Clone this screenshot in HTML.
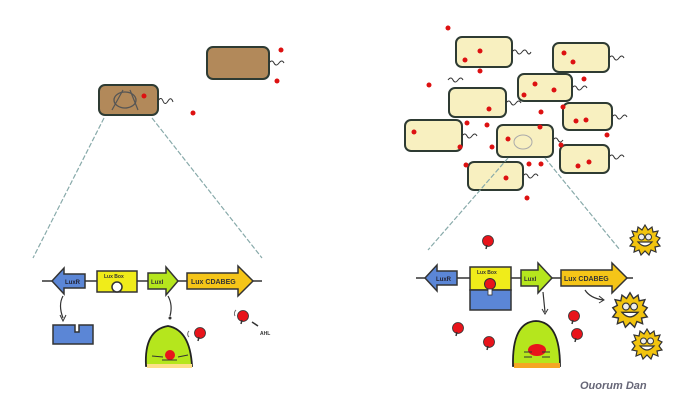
<!DOCTYPE html>
<html><head><meta charset="utf-8"><style>
html,body{margin:0;padding:0;background:#fff;width:680px;height:401px;overflow:hidden}
svg{display:block}
text{font-family:"Liberation Sans",sans-serif;font-weight:bold}
</style></head><body>
<svg width="680" height="401" viewBox="0 0 680 401" xmlns="http://www.w3.org/2000/svg">
<defs>
<g id="sun">
<polygon points="0,-15 3,-10 7,-13 8,-8 13,-9 11,-4 15,-2 12,2 15,6 10,7 11,12 6,10 4,15 0,11 -4,15 -6,10 -11,12 -10,7 -15,6 -12,2 -15,-2 -11,-4 -13,-9 -8,-8 -7,-13 -3,-10" fill="#f2c40f" stroke="#333" stroke-width="1.2"/>
<circle cx="-3.5" cy="-3" r="3" fill="#eee" stroke="#333"/><circle cx="3.5" cy="-3" r="3" fill="#eee" stroke="#333"/>
<path d="M-7,2 Q0,10 7,2 Z" fill="#fff" stroke="#333" stroke-width="1.2"/>
</g>
<g id="ahl"><circle r="5.5" fill="#e8141b" stroke="#333" stroke-width="0.8"/><path d="M-1,4 L-2,8" stroke="#333" stroke-width="1.5"/></g>
</defs>

<!-- LEFT: cells -->
<rect x="207" y="47" width="62" height="32" rx="6" fill="#b2895a" stroke="#2e3b33" stroke-width="2"/>
<path d="M269,63 q3,-4 5,0 t5,0 t5,0" fill="none" stroke="#333"/>
<circle cx="281" cy="50" r="2.5" fill="#d11"/><circle cx="277" cy="81" r="2.5" fill="#d11"/>
<rect x="99" y="85" width="59" height="30" rx="6" fill="#b2895a" stroke="#2e3b33" stroke-width="2"/>
<ellipse cx="125" cy="100" rx="11" ry="8" fill="none" stroke="#555" stroke-width="1.3"/>
<path d="M112,110 L123,90 M138,110 L130,90" stroke="#555" stroke-width="1.2"/>
<circle cx="144" cy="96" r="2.5" fill="#d11"/>
<path d="M158,101 q3,-5 5,0 t5,0 t5,1" fill="none" stroke="#333"/>
<circle cx="193" cy="113" r="2.5" fill="#d11"/>
<path d="M104,118 L33,258 M152,118 L262,258" stroke="#8aa" stroke-width="1.2" stroke-dasharray="5,2"/>

<!-- LEFT: genes -->
<line x1="42" y1="281" x2="262" y2="281" stroke="#333" stroke-width="1.5"/>
<polygon points="52,281 64,268 64,274 85,274 85,288 64,288 64,294" fill="#5b86d6" stroke="#333" stroke-width="1.5"/>
<text x="65" y="284" font-size="6" fill="#223">LuxR</text>
<rect x="97" y="271" width="40" height="21" fill="#f0ec1a" stroke="#333" stroke-width="1.5"/>
<text x="104" y="278" font-size="5" fill="#333">Lux Box</text>
<circle cx="117" cy="287" r="5" fill="#fff" stroke="#333" stroke-width="1.5"/>
<polygon points="148,273 166,273 166,267 178,281 166,295 166,289 148,289" fill="#b5e61d" stroke="#333" stroke-width="1.5"/>
<text x="151" y="284" font-size="6" fill="#333">LuxI</text>
<polygon points="187,273 238,273 238,266 253,281 238,296 238,289 187,289" fill="#f5c518" stroke="#333" stroke-width="1.5"/>
<text x="191" y="284" font-size="7" fill="#333">Lux CDABEG</text>
<path d="M63,296 Q58,305 63,318" fill="none" stroke="#333" stroke-width="1.2"/><path d="M60,315 L63,321 L66,315" fill="none" stroke="#333"/>
<path d="M53,325 H75 V332 H79 V325 H93 V344 H53 Z" fill="#5b86d6" stroke="#333" stroke-width="1.5"/>
<path d="M168,296 Q173,305 170,316" fill="none" stroke="#333" stroke-width="1.2"/><circle cx="170" cy="318" r="1.5" fill="#333"/>
<path d="M146,366 Q144,330 168,326 Q190,330 192,366 Z" fill="#b5e61d" stroke="#222" stroke-width="1.8"/>
<rect x="147" y="364" width="45" height="4" fill="#fde08a"/>
<circle cx="170" cy="355" r="5" fill="#e8141b"/>
<path d="M152,356 L163,357 M178,357 L188,355 M162,360 L177,360" stroke="#333"/>
<use href="#ahl" x="200" y="333"/><use href="#ahl" x="243" y="316"/>
<path d="M189,331 a4,4 0 0,0 0,6 M236,310 a5,5 0 0,0 -1,6" fill="none" stroke="#666"/>
<path d="M252,322 L258,326" stroke="#333" stroke-width="1.5"/>
<text x="260" y="335" font-size="5" fill="#333">AHL</text>

<!-- RIGHT: cells -->
<g fill="#f8f0c0" stroke="#2e3b33" stroke-width="2">
<rect x="456" y="37" width="56" height="30" rx="6"/>
<rect x="553" y="43" width="56" height="29" rx="6"/>
<rect x="518" y="74" width="54" height="27" rx="6"/>
<rect x="449" y="88" width="57" height="29" rx="6"/>
<rect x="563" y="103" width="49" height="27" rx="6"/>
<rect x="405" y="120" width="57" height="31" rx="6"/>
<rect x="497" y="125" width="56" height="32" rx="6"/>
<rect x="560" y="145" width="49" height="28" rx="6"/>
<rect x="468" y="162" width="55" height="28" rx="6"/>
</g>
<ellipse cx="523" cy="142" rx="9" ry="7" fill="none" stroke="#aaa" stroke-width="1"/>
<g fill="none" stroke="#333">
<path d="M512,52 q3,-4 5,0 t5,0 t5,0 t4,0"/>
<path d="M609,58 q3,-4 5,0 t5,0 t5,0"/>
<path d="M572,88 q3,-4 5,0 t5,0 t5,0"/>
<path d="M506,103 q3,-4 5,0 t5,0 t5,0"/>
<path d="M612,117 q3,-4 5,0 t5,0 t5,0"/>
<path d="M462,136 q3,-4 5,0 t5,0 t5,0"/>
<path d="M553,140 q3,-4 5,0 t5,0"/>
<path d="M609,157 q3,-4 5,0 t5,0 t5,0"/>
<path d="M523,176 q3,-4 5,0 t5,0 t5,0"/>
<path d="M448,80 q3,-4 5,0 t5,0 t5,0"/>
</g>
<g fill="#d11">
<circle cx="448" cy="28" r="2.5"/><circle cx="480" cy="51" r="2.5"/><circle cx="465" cy="60" r="2.5"/><circle cx="480" cy="71" r="2.5"/>
<circle cx="564" cy="53" r="2.5"/><circle cx="573" cy="62" r="2.5"/><circle cx="429" cy="85" r="2.5"/><circle cx="535" cy="84" r="2.5"/>
<circle cx="554" cy="90" r="2.5"/><circle cx="524" cy="95" r="2.5"/><circle cx="584" cy="79" r="2.5"/><circle cx="489" cy="109" r="2.5"/>
<circle cx="541" cy="112" r="2.5"/><circle cx="563" cy="107" r="2.5"/><circle cx="576" cy="121" r="2.5"/><circle cx="586" cy="120" r="2.5"/>
<circle cx="467" cy="123" r="2.5"/><circle cx="487" cy="125" r="2.5"/><circle cx="414" cy="132" r="2.5"/><circle cx="540" cy="127" r="2.5"/>
<circle cx="508" cy="139" r="2.5"/><circle cx="460" cy="147" r="2.5"/><circle cx="492" cy="147" r="2.5"/><circle cx="561" cy="145" r="2.5"/>
<circle cx="607" cy="135" r="2.5"/><circle cx="466" cy="165" r="2.5"/><circle cx="529" cy="164" r="2.5"/><circle cx="541" cy="164" r="2.5"/>
<circle cx="578" cy="166" r="2.5"/><circle cx="589" cy="162" r="2.5"/><circle cx="506" cy="178" r="2.5"/><circle cx="527" cy="198" r="2.5"/>
</g>
<path d="M508,158 L428,250 M545,158 L620,250" stroke="#8aa" stroke-width="1.2" stroke-dasharray="5,2"/>

<!-- RIGHT: genes -->
<line x1="416" y1="278" x2="633" y2="278" stroke="#333" stroke-width="1.5"/>
<polygon points="425,278 437,265 437,271 457,271 457,285 437,285 437,291" fill="#5b86d6" stroke="#333" stroke-width="1.5"/>
<text x="436" y="281" font-size="6" fill="#223">LuxR</text>
<rect x="470" y="267" width="41" height="23" fill="#f0ec1a" stroke="#333" stroke-width="1.5"/>
<rect x="470" y="290" width="41" height="20" fill="#5b86d6" stroke="#333" stroke-width="1.5"/>
<text x="477" y="274" font-size="5" fill="#333">Lux Box</text>
<circle cx="490" cy="284" r="5.5" fill="#e8141b" stroke="#333"/><rect x="488" y="289" width="4" height="6" fill="#fff" stroke="#333" stroke-width="0.8"/>
<polygon points="521,270 538,270 538,263 552,278 538,293 538,286 521,286" fill="#b5e61d" stroke="#333" stroke-width="1.5"/>
<text x="524" y="281" font-size="6" fill="#333">LuxI</text>
<polygon points="561,270 612,270 612,263 627,278 612,293 612,286 561,286" fill="#f5c518" stroke="#333" stroke-width="1.5"/>
<text x="564" y="281" font-size="7" fill="#333">Lux CDABEG</text>
<path d="M543,292 L545,312" stroke="#333" stroke-width="1.2"/><path d="M542,309 L545,314 L548,309" fill="none" stroke="#333"/>
<path d="M585,290 Q590,298 603,300" fill="none" stroke="#333" stroke-width="1.2"/><path d="M599,296 L604,300 L599,303" fill="none" stroke="#333"/>
<path d="M513,366 Q512,322 536,321 Q560,322 560,366 Z" fill="#b5e61d" stroke="#222" stroke-width="1.8"/>
<rect x="514" y="363" width="46" height="5" fill="#f5a623"/>
<ellipse cx="537" cy="350" rx="9" ry="6" fill="#e8141b"/>
<path d="M524,352 L532,352 M524,357 L532,357 M542,352 L550,352 M542,357 L550,357" stroke="#333"/>
<use href="#ahl" x="488" y="241"/><use href="#ahl" x="458" y="328"/><use href="#ahl" x="489" y="342"/>
<use href="#ahl" x="574" y="316"/><use href="#ahl" x="577" y="334"/>
<use href="#sun" x="645" y="240" transform="translate(0,0)"/>
<g transform="translate(630,310) scale(1.15)"><use href="#sun"/></g>
<use href="#sun" x="647" y="344"/>
<text x="580" y="389" font-size="11" fill="#667" font-weight="normal" font-family="Liberation Serif" font-style="italic">Ouorum Dan</text>
</svg>
</body></html>
